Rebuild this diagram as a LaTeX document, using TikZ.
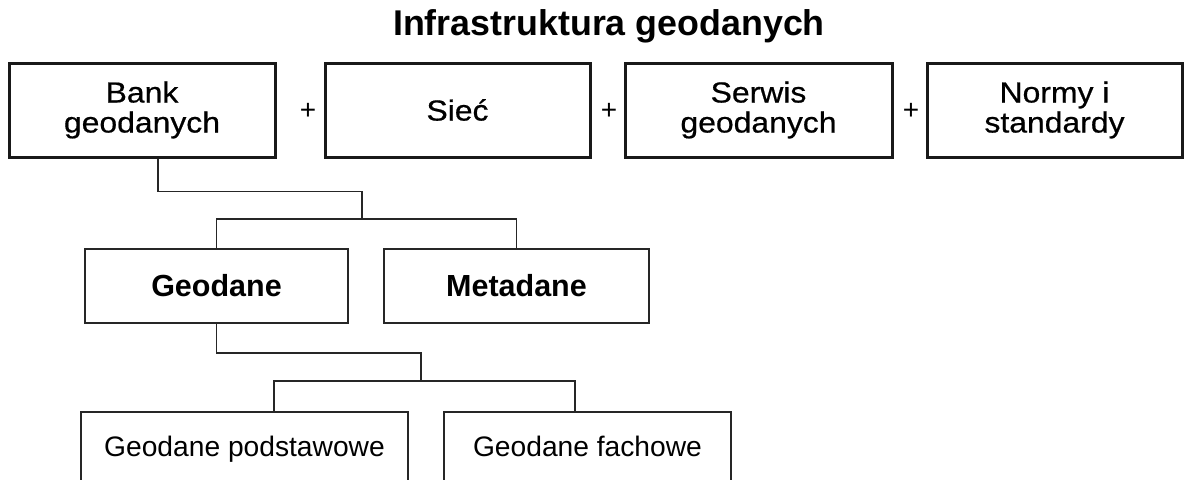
\documentclass[tikz,border=0pt]{standalone}
\usepackage{fontspec}
\setmainfont{Liberation Sans}
\newfontfamily\topfont[FakeStretch=1.1,FakeBold=0.6]{Liberation Sans}
\usetikzlibrary{calc}
\tikzset{
  topbox/.style={draw=black!90, line width=3pt, minimum width=#1, minimum height=94pt, inner sep=0pt, align=center, font=\topfont\fontsize{29}{30}\selectfont},
  midbox/.style={draw=black!85, line width=1.6pt, minimum width=#1, minimum height=74pt, inner sep=0pt, font=\fontsize{30.5}{32}\selectfont\bfseries},
  lowbox/.style={draw=black!85, line width=1.6pt, minimum width=#1, minimum height=74pt, inner sep=0pt, text height=21pt, text depth=7pt, font=\fontsize{28.2}{30}\selectfont},
  plus/.style={font=\fontsize{28}{28}\selectfont, inner sep=0pt},
  conn/.style={draw=black!85, line width=1.7pt}
}
\begin{document}
\begin{tikzpicture}[x=1pt,y=-1pt]
\useasboundingbox (0,0) rectangle (1185,479);
\clip (0,0) rectangle (1185,479);
\fill[white] (0,0) rectangle (1185,479);
\node[anchor=base, font=\fontsize{35.8}{40}\selectfont\bfseries, inner sep=0pt] (title) at (609,35) {Infrastruktura geodanych};
\node[topbox=266pt] (bank) at (142,110) {Bank\\geodanych};
\node[topbox=265pt] (siec) at (457.5,110) {Sieć};
\node[topbox=267pt] (serwis) at (758.5,110) {Serwis\\geodanych};
\node[topbox=255pt] (normy) at (1054.5,110) {Normy i\\standardy};
\node[plus] (p1) at (308,111) {+};
\node[plus] (p2) at (609,111) {+};
\node[plus] (p3) at (911,111) {+};
\node[midbox=263pt] (geo) at (216.5,286) {Geodane};
\node[midbox=265pt] (meta) at (516.5,286) {Metadane};
\node[lowbox=327pt] (pod) at (244.5,449) {Geodane podstawowe};
\node[lowbox=287pt] (fach) at (587.5,449) {Geodane fachowe};
\coordinate (bankout) at ([xshift=16pt]bank.south);
\coordinate (b1) at (362,219);
\coordinate (b2) at (421,381);
\coordinate (podin) at ([xshift=29.5pt]pod.north);
\coordinate (fachin) at ([xshift=-12.5pt]fach.north);
\draw[conn] (bankout) -- ++(0,33) -| (b1);
\draw[conn] (geo.north) -- (geo.north |- b1) -- (meta.north |- b1) -- (meta.north);
\draw[conn] (geo.south) -- ++(0,29) -| (b2);
\draw[conn] (podin) -- (podin |- b2) -- (fachin |- b2) -- (fachin);
\end{tikzpicture}
\end{document}
